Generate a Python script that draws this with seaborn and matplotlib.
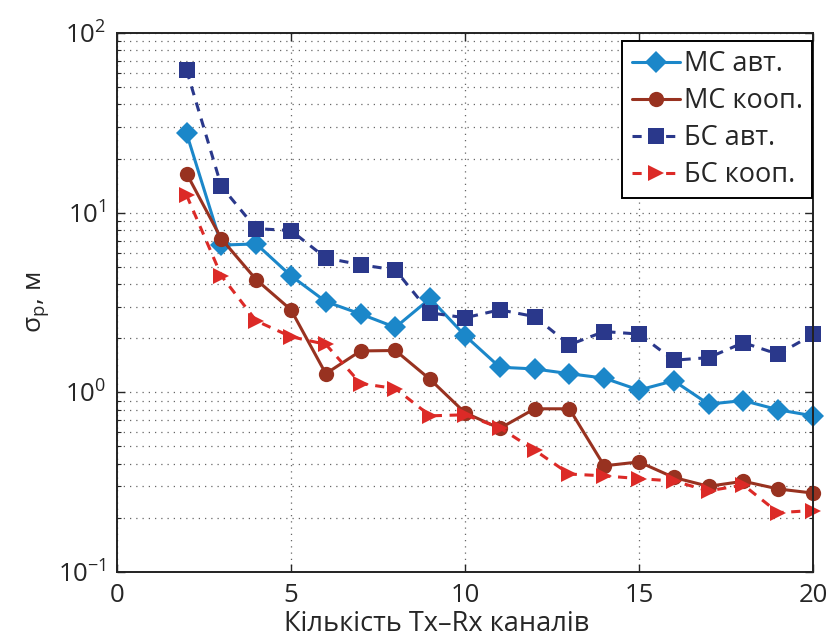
import numpy as np; import pandas as pd
import matplotlib
matplotlib.use("Agg")
import matplotlib.pyplot as plt
import seaborn as sns
from matplotlib.ticker import LogLocator, FixedLocator

# дані
kanaly = list(range(2, 21))
ms_avt = [27.6, 6.6, 6.7, 4.45, 3.2, 2.73, 2.3, 3.33, 2.07, 1.38, 1.35, 1.27, 1.2, 1.03, 1.16, 0.86, 0.9, 0.8, 0.74]
ms_koop = [16.5, 7.15, 4.24, 2.88, 1.27, 1.70, 1.71, 1.18, 0.77, 0.63, 0.81, 0.81, 0.39, 0.41, 0.336, 0.30, 0.32, 0.29, 0.275]
bs_avt = [62, 14.0, 8.15, 7.95, 5.6, 5.13, 4.8, 2.77, 2.6, 2.88, 2.64, 1.84, 2.18, 2.11, 1.51, 1.56, 1.89, 1.63, 2.1]
bs_koop = [12.5, 4.45, 2.5, 2.04, 1.85, 1.12, 1.05, 0.74, 0.75, 0.635, 0.477, 0.351, 0.343, 0.331, 0.321, 0.283, 0.305, 0.214, 0.22]
nazvy = ["МС авт.", "МС кооп.", "БС авт.", "БС кооп."]
x_ticks = [0, 5, 10, 15, 20]

df = pd.DataFrame({
    "n": kanaly * 4,
    "sigma": ms_avt + ms_koop + bs_avt + bs_koop,
    "seriya": sum([[s] * len(kanaly) for s in nazvy], []),
})

kolory = {"МС авт.": "#1b87c9", "МС кооп.": "#983220", "БС авт.": "#2a388b", "БС кооп.": "#dc2a27"}
markery = {"МС авт.": "D", "МС кооп.": "o", "БС авт.": "s", "БС кооп.": ">"}
shtrykh = {"МС авт.": "", "МС кооп.": "", "БС авт.": (3, 2.5), "БС кооп.": (3, 2.5)}

sns.set_style("ticks")
plt.rcParams['font.family'] = ['Open Sans', 'DejaVu Sans']
plt.rcParams['mathtext.fontset'] = 'custom'
plt.rcParams['mathtext.rm'] = 'Open Sans'

fig = plt.figure(figsize=(8.31, 6.37), dpi=100)
ax = fig.add_axes([0.1408, 0.1020, 0.9783 - 0.1408, 0.9482 - 0.1020])

sns.lineplot(data=df, x="n", y="sigma", hue="seriya", style="seriya", hue_order=nazvy, style_order=nazvy,
             palette=kolory, markers=markery, dashes=shtrykh, markersize=11, linewidth=2.2,
             markeredgewidth=0, ax=ax, legend=False, clip_on=False, zorder=3)

ax.set_yscale("log")
ax.set_xlim(0, 20)
ax.set_ylim(0.1, 100)
ax.xaxis.set_major_locator(FixedLocator(x_ticks))
ax.yaxis.set_major_locator(LogLocator(base=10, numticks=10))
ax.yaxis.set_minor_locator(LogLocator(base=10, subs=np.arange(2, 10), numticks=10))
ax.grid(True, which="major", axis="both", linestyle=(0, (1, 4)), color="#666666", linewidth=0.9)
ax.grid(True, which="minor", axis="y", linestyle=(0, (1, 4)), color="#666666", linewidth=0.9)
ax.tick_params(which="both", direction="in", top=True, right=True, labelsize=18.5, pad=8)
ax.tick_params(which="major", length=6, width=1)
ax.tick_params(which="minor", length=3, width=0.8)
for s in ax.spines.values():
    s.set_linewidth(1.4)
    s.set_color("#222222")
    s.set_zorder(4)

ax.set_xlabel("Кількість Tx–Rx каналів", fontsize=19.5, labelpad=0)
ax.xaxis.set_label_coords(0.46, -0.07)
ax.set_ylabel("σ$_\\mathregular{p}$, м", fontsize=19, labelpad=4)

# легенда
linii = ax.get_lines()[:4]
leg = ax.legend(linii, nazvy, loc="upper right", bbox_to_anchor=(0.9986, 0.9857), borderaxespad=0,
                fontsize=19.5, frameon=True, fancybox=False, edgecolor="black", framealpha=1,
                handlelength=1.8, handletextpad=0.12, labelspacing=0.33, borderpad=0.35)
leg.get_frame().set_linewidth(1.4)
leg.set_zorder(5)

fig.savefig("out.png", dpi=100)
